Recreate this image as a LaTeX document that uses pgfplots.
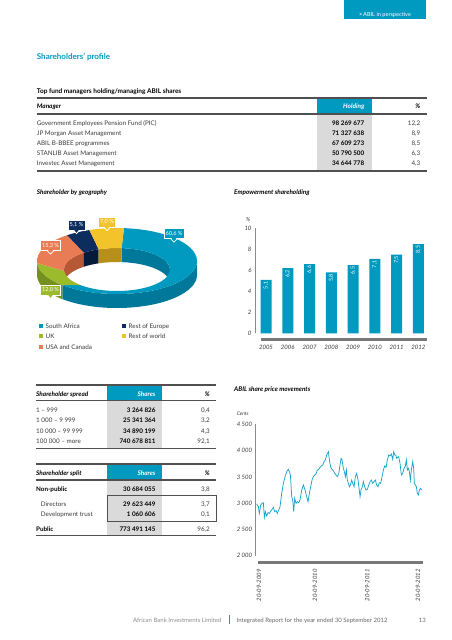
\documentclass[border=0pt]{standalone}
\usepackage{pgfplots}
\pgfplotsset{compat=1.18}
\usepackage{fontspec}
\setmainfont{Lato}
\definecolor{abteal}{HTML}{009AC0}
\definecolor{abtealdark}{HTML}{00789A}
\definecolor{abline}{HTML}{1AA3C8}
\definecolor{abgreen}{HTML}{9CBB2C}
\definecolor{abgreendark}{HTML}{74901E}
\definecolor{aborange}{HTML}{E97B55}
\definecolor{aborangedark}{HTML}{B65736}
\definecolor{abnavy}{HTML}{0D2D5E}
\definecolor{abnavydark}{HTML}{061A3A}
\definecolor{abyellow}{HTML}{F3C32C}
\definecolor{abyellowdark}{HTML}{B88F1A}
\definecolor{abgrey}{HTML}{DADADA}
\definecolor{abrule}{HTML}{505050}
\definecolor{abtext}{HTML}{3A3A3A}
\definecolor{abaxis}{HTML}{8A8A8A}
\definecolor{basegrey}{RGB}{120,120,120}
\newcommand\fs[1]{\fontsize{#1}{#1}\selectfont}
% donut geometry (local axis units = pt)
\newcommand\ringtop[3]{\fill[#3] (axis cs:{87+80*cos(#1)},{59+33*sin(#1)}) arc[start angle=#1,end angle=#2,x radius=80pt,y radius=33pt] -- (axis cs:{87+53*cos(#2)},{50.5+21.5*sin(#2)}) arc[start angle=#2,end angle=#1,x radius=53pt,y radius=21.5pt] -- cycle;}
\newcommand\ringside[3]{\fill[#3] (axis cs:{87+80*cos(#1)},{59+33*sin(#1)}) arc[start angle=#1,end angle=#2,x radius=80pt,y radius=33pt] -- (axis cs:{87+80*cos(#2)},{45+33*sin(#2)}) arc[start angle=#2,end angle=#1,x radius=80pt,y radius=33pt] -- cycle;}
\newcommand\ringwall[3]{\fill[#3] (axis cs:{87+53*cos(#1)},{50.5+21.5*sin(#1)}) arc[start angle=#1,end angle=#2,x radius=53pt,y radius=21.5pt] -- (axis cs:{87+53*cos(#2)},{36.5+21.5*sin(#2)}) arc[start angle=#2,end angle=#1,x radius=53pt,y radius=21.5pt] -- cycle;}
\newcommand\callout[4]{%
  \node[fill=#3, draw=white, line width=0.8pt, text=white, font=\fs{5.6}, inner sep=1.6pt, minimum height=10pt] at (#1,-#2) {#4};
  \fill[#3] (#1-2.8,-#2-4.2) -- (#1+2.8,-#2-4.2) -- (#1,-#2-8) -- cycle;
  \draw[white, line width=0.7pt] (#1-3.2,-#2-5.4) -- (#1,-#2-8.6) -- (#1+3.2,-#2-5.4);}
\begin{document}
\begin{tikzpicture}[
  tx/.style={anchor=base west, inner sep=0, font=\fs{6.3}, text=abtext},
  tr/.style={anchor=base east, inner sep=0, font=\fs{6.3}, text=abtext},
  hd/.style={anchor=base west, inner sep=0, font=\fs{6.4}\bfseries\itshape, text=black}]
\path[use as bounding box] (0pt,0pt) rectangle (451pt,-640pt);

\begin{scope}[x=1pt,y=1pt]
% ---- header tab and titles
\fill[abteal] (344,0) rectangle (426,-19);
\node[anchor=base, inner sep=0, text=white, font=\fs{5.6}] at (385,-16) {\textbf{>}\,ABIL in perspective};
\node[anchor=base west, inner sep=0, text=abteal, font=\fs{8}\bfseries] at (36.7,-59) {Shareholders’ profile};
\node[anchor=base west, inner sep=0, text=black, font=\fs{6.5}\bfseries] at (36.7,-93.4) {Top fund managers holding/managing ABIL shares};

% ---- top table
\fill[abteal] (317.3,-98) rectangle (371.7,-114);
\fill[abgrey] (317.3,-114) rectangle (371.7,-171);
\draw[abrule, line width=1.1pt] (36.7,-98) -- (427,-98);
\draw[abrule, line width=1.1pt] (36.7,-114) -- (427,-114);
\draw[abrule, line width=1.1pt] (36.7,-171) -- (427,-171);
\node[hd] at (36.7,-108.6) {Manager};
\node[hd, anchor=base east, text=white] at (364.5,-108.6) {Holding};
\node[hd, anchor=base east] at (420.5,-108.6) {\%};
\foreach \n/\h/\p [count=\i from 0] in {Government Employees Pension Fund (PIC)/98 269 677/12{,}2,
  JP Morgan Asset Management/71 327 638/8{,}9,
  ABIL B-BBEE programmes/67 609 273/8{,}5,
  STANLIB Asset Management/50 790 500/6{,}3,
  Investec Asset Management/34 644 778/4{,}3}{
  \node[tx] at (36.7,{-125.6-9.85*\i}) {\n};
  \node[tr, text=black, font=\fs{6.3}\bfseries] at (364.5,{-125.6-9.85*\i}) {\h};
  \node[tr] at (420.5,{-125.6-9.85*\i}) {\p};
}
\node[hd] at (36.7,-194.3) {Shareholder by geography};
\node[hd] at (234,-194.3) {Empowerment shareholding};
\end{scope}

% ---- donut
\pgfmathsetmacro\aA{85}
\pgfmathsetmacro\aB{\aA-3.6*60.6}% South Africa
\pgfmathsetmacro\aC{\aB-3.6*12.0}% UK
\pgfmathsetmacro\aD{\aC-3.6*15.3}% USA and Canada
\pgfmathsetmacro\aE{\aD-3.6*5.1}% Rest of Europe
\pgfmathsetmacro\aF{\aE-3.6*7.0}% Rest of world
\begin{axis}[at={(30pt,-320pt)}, anchor=south west, scale only axis,
  width=180pt, height=110pt,
  xmin=0, xmax=180, ymin=0, ymax=110, hide axis, clip=false]
  \ringwall{\aA}{0}{abtealdark}
  \ringwall{-180}{\aD}{aborangedark}
  \ringwall{\aD}{\aE}{abnavydark}
  \ringwall{\aE}{\aF}{abyellowdark}
  \ringside{0}{\aB}{abtealdark}
  \ringside{\aB}{\aC}{abgreendark}
  \ringside{\aC}{-180}{aborangedark}
  \ringtop{\aA}{\aB}{abteal}
  \ringtop{\aB}{\aC}{abgreen}
  \ringtop{\aC}{\aD}{aborange}
  \ringtop{\aD}{\aE}{abnavy}
  \ringtop{\aE}{\aF}{abyellow}
\end{axis}

\begin{scope}[x=1pt,y=1pt]
\callout{174}{233.5}{abteal}{60,6 \%}
\callout{76.5}{225}{abnavy}{5,1 \%}
\callout{107}{222}{abyellow}{7,0 \%}
\callout{50.5}{245.5}{aborange}{15,3 \%}
\callout{50.5}{290}{abgreen}{12,0 \%}
% legend
\fill[abteal] (38.5,-323.5) rectangle (43,-328);
\node[tx] at (45.5,-328) {South Africa};
\fill[abgreen] (38.5,-333.8) rectangle (43,-338.3);
\node[tx] at (45.5,-338.3) {UK};
\fill[aborange] (38.5,-344.5) rectangle (43,-349);
\node[tx] at (45.5,-349) {USA and Canada};
\fill[abnavy] (121.5,-323.5) rectangle (126,-328);
\node[tx] at (128.5,-328) {Rest of Europe};
\fill[abyellow] (121.5,-333.8) rectangle (126,-338.3);
\node[tx] at (128.5,-338.3) {Rest of world};
\node[anchor=center, inner sep=0, font=\fs{5.6}\itshape, text=abtext] at (248.3,-219.3) {\%};
% base bars under the two charts
\node[fill=basegrey, inner sep=0, minimum width=166pt, minimum height=3.4pt] at (343.7,-339.3) {};
\node[fill=basegrey, inner sep=0, minimum width=165pt, minimum height=3.4pt] at (340.5,-562.7) {};
\end{scope}

% ---- empowerment bars
\begin{axis}[at={(255pt,-333.3pt)}, anchor=south west, scale only axis,
  width=176.4pt, height=105pt,
  xmin=-0.506, xmax=7.6, ymin=0, ymax=10, clip=false,
  axis lines*=left, separate axis lines,
  x axis line style={draw=none}, y axis line style={draw=abaxis, line width=0.5pt},
  ytick={0,2,4,6,8,10}, xtick={0,1,2,3,4,5,6,7},
  xticklabels={2005,2006,2007,2008,2009,2010,2011,2012},
  major tick length=0,
  tick label style={font=\fs{6}\itshape, text=abtext},
  xticklabel style={yshift=-8.5pt},
  /pgf/number format/assume math mode=true]
  \addplot[ybar, bar width=11pt, fill=abteal, draw=none,
    nodes near coords={\pgfmathprintnumber[fixed,fixed zerofill,precision=1,use comma,assume math mode=true]{\pgfplotspointmeta}},
    every node near coord/.append style={rotate=90, anchor=east, text=white, font=\fs{5.5}, inner sep=1.5pt}]
    coordinates {(0,5.1) (1,6.2) (2,6.6) (3,5.8) (4,6.5) (5,7.1) (6,7.5) (7,8.5)};
\end{axis}

\begin{scope}[x=1pt,y=1pt]
% ---- lower-left tables
\fill[abteal] (107.3,-385) rectangle (161.7,-400.7);
\fill[abgrey] (107.3,-400.7) rectangle (161.7,-448.3);
\draw[abrule, line width=1.1pt] (36,-385) -- (216,-385);
\draw[abrule, line width=1.1pt] (36,-400.7) -- (216,-400.7);
\draw[abrule, line width=1.1pt] (36,-448.3) -- (216,-448.3);
\node[hd] at (36,-396.5) {Shareholder spread};
\node[hd, anchor=base east, text=white] at (155.7,-396.5) {Shares};
\node[hd, anchor=base east] at (210,-396.5) {\%};
\node[tx] at (36,-412.3) {1 – 999};
\node[tr, text=black, font=\fs{6.3}\bfseries] at (155.7,-412.3) {3 264 826};
\node[tr] at (210,-412.3) {0,4};
\node[tx] at (36,-422.6) {1 000 – 9 999};
\node[tr, text=black, font=\fs{6.3}\bfseries] at (155.7,-422.6) {25 341 364};
\node[tr] at (210,-422.6) {3,2};
\node[tx] at (36,-433) {10 000 – 99 999};
\node[tr, text=black, font=\fs{6.3}\bfseries] at (155.7,-433) {34 890 199};
\node[tr] at (210,-433) {4,3};
\node[tx] at (36,-443.3) {100 000 – more};
\node[tr, text=black, font=\fs{6.3}\bfseries] at (155.7,-443.3) {740 678 811};
\node[tr] at (210,-443.3) {92,1};

\fill[abteal] (107.3,-464) rectangle (161.7,-480);
\fill[abgrey] (107.3,-480) rectangle (161.7,-535.3);
\draw[abrule, line width=1.1pt] (36,-464) -- (216,-464);
\draw[abrule, line width=1.1pt] (36,-480) -- (216,-480);
\draw[abrule, line width=1.1pt] (36,-535.3) -- (216,-535.3);
\draw[abrule, line width=0.9pt] (107.3,-495.7) rectangle (216,-521.7);
\node[hd] at (36,-475.6) {Shareholder split};
\node[hd, anchor=base east, text=white] at (155.7,-475.6) {Shares};
\node[hd, anchor=base east] at (210,-475.6) {\%};
\node[tx, text=black, font=\fs{6.3}\bfseries] at (36,-491) {Non-public};
\node[tr, text=black, font=\fs{6.3}\bfseries] at (155.7,-491) {30 684 055};
\node[tr] at (210,-491) {3,8};
\node[tx] at (40.7,-506.3) {Directors};
\node[tr, text=black, font=\fs{6.3}\bfseries] at (155.7,-506.3) {29 623 449};
\node[tr] at (210,-506.3) {3,7};
\node[tx] at (40.7,-516.6) {Development trust};
\node[tr, text=black, font=\fs{6.3}\bfseries] at (155.7,-516.6) {1 060 606};
\node[tr] at (210,-516.6) {0,1};
\node[tx, text=black, font=\fs{6.3}\bfseries] at (36,-531) {Public};
\node[tr, text=black, font=\fs{6.3}\bfseries] at (155.7,-531) {773 491 145};
\node[tr] at (210,-531) {96,2};

% ---- share price titles
\node[hd] at (234,-391.3) {ABIL share price movements};
\node[anchor=base west, inner sep=0, font=\fs{5}\itshape, text=abtext] at (236.7,-415) {Cents};

% ---- footer
\node[anchor=base west, inner sep=0, font=\fs{6}, text=black!45] at (133,-622) {African Bank Investments Limited};
\draw[abteal!60!gray, line width=0.5pt] (229.5,-614.5) -- (229.5,-624);
\node[anchor=base west, inner sep=0, font=\fs{6}, text=black!60] at (236.5,-622) {Integrated Report for the year ended 30 September 2012};
\node[anchor=base east, inner sep=0, font=\fs{6}, text=black!60] at (426,-622) {13};
\end{scope}

% ---- share price
\begin{axis}[at={(255.7pt,-555.7pt)}, anchor=south west, scale only axis,
  width=170.58pt, height=131.4pt,
  xmin=-0.22, xmax=37, ymin=2000, ymax=4500, clip=false,
  axis lines*=left, separate axis lines,
  x axis line style={draw=none}, y axis line style={draw=abaxis, line width=0.5pt},
  ytick={2000,2500,3000,3500,4000,4500},
  yticklabels={2 000,2 500,3 000,3 500,4 000,4 500},
  xtick={0.5,12.7,24.1,35.2},
  xticklabels={20-09-2009,20-09-2010,20-09-2011,20-09-2012},
  major tick length=0,
  tick label style={font=\fs{6}\itshape, text=abtext},
  xticklabel style={rotate=90, anchor=east},
  xticklabel shift=10pt]
  \addplot[abline, line width=0.75pt, mark=none] table {
0 2983
0.36 2933
0.58 2806
0.87 2965
1.16 2996
1.45 3009
1.67 2730
1.89 2838
2.18 2755
2.47 2819
2.76 2806
3.05 2850
3.35 2882
3.64 2920
3.93 2838
4.22 2857
4.51 2806
4.80 2869
5.09 2933
5.45 3187
5.82 3377
6.18 3504
6.55 3599
6.91 3643
7.13 3599
7.35 3536
7.64 3123
7.85 3060
8.07 2838
8.29 3091
8.58 2996
8.87 3028
9.16 3009
9.45 3060
9.82 3250
10.18 3345
10.55 3250
10.91 3123
11.20 3028
11.49 3187
11.78 3313
12.07 3440
12.36 3504
12.65 3536
12.95 3555
13.24 3631
13.53 3643
13.82 3682
14.11 3707
14.40 3726
14.69 3789
14.98 3821
15.27 3916
15.64 3980
15.85 3821
16.15 3682
16.44 3643
16.73 3618
17.02 3567
17.31 3536
17.60 3504
17.89 3555
18.18 3726
18.40 3853
18.62 3821
18.91 3662
19.13 3599
19.35 3504
19.56 3631
19.78 3440
20.00 3377
20.22 3313
20.44 3345
20.73 3440
20.95 3377
21.24 3313
21.53 3504
21.82 3567
22.11 3440
22.33 3282
22.55 3123
22.76 3250
23.05 3313
23.27 3409
23.56 3313
23.85 3250
24.15 3263
24.44 3345
24.73 3409
25.02 3440
25.31 3377
25.60 3409
25.89 3440
26.18 3345
26.47 3313
26.76 3390
27.05 3377
27.35 3504
27.64 3631
27.93 3707
28.22 3682
28.51 3821
28.80 3916
29.09 3897
29.38 3935
29.67 3834
29.89 3980
30.11 3916
30.33 3916
30.55 3853
30.76 3872
30.98 3885
31.27 3758
31.56 3536
31.85 3567
32.15 3662
32.44 3707
32.65 3821
32.87 3631
33.09 3662
33.31 3599
33.53 3440
33.75 3631
34.04 3789
34.25 3662
34.40 3377
34.62 3345
34.84 3313
35.05 3187
35.27 3155
35.49 3250
35.78 3282
36.00 3250
  };
\end{axis}
\end{tikzpicture}
\end{document}
